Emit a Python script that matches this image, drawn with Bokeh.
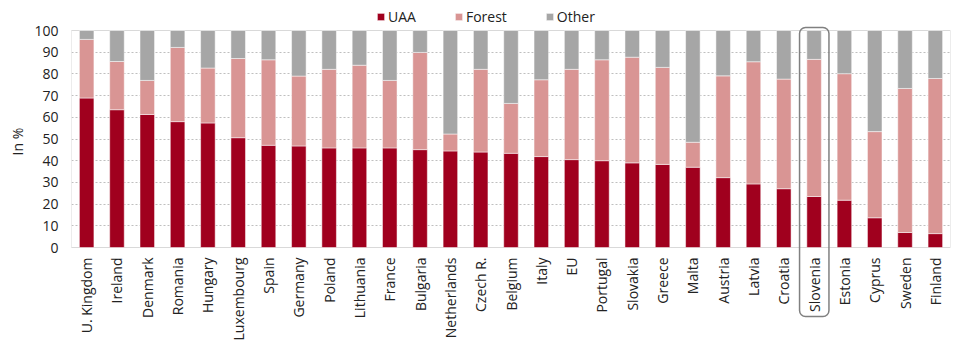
import math
from bokeh.plotting import figure
from bokeh.models import (ColumnDataSource, Legend, LegendItem, BoxAnnotation, FixedTicker,
                          Range1d, Title)
from bokeh.core.properties import value
from bokeh.embed import file_html
from bokeh.resources import INLINE

countries = ["U. Kingdom", "Ireland", "Denmark", "Romania", "Hungary", "Luxembourg", "Spain",
             "Germany", "Poland", "Lithuania", "France", "Bulgaria", "Netherlands", "Czech R.",
             "Belgium", "Italy", "EU", "Portugal", "Slovakia", "Greece", "Malta", "Austria",
             "Latvia", "Croatia", "Slovenia", "Estonia", "Cyprus", "Sweden", "Finland"]
uaa = [68.9, 63.5, 61.3, 58.0, 57.4, 50.6, 47.1, 46.8, 45.9, 45.9, 45.9, 45.1, 44.5, 44.0,
       43.4, 41.9, 40.5, 40.0, 39.0, 38.3, 37.0, 32.2, 29.3, 27.1, 23.5, 21.8, 13.7, 6.9, 6.4]
uaa_forest_top = [95.9, 85.7, 77.0, 92.2, 82.7, 87.1, 86.5, 79.0, 82.1, 84.0, 77.0, 89.9, 52.3, 82.1,
                  66.4, 77.3, 82.1, 86.5, 87.7, 83.0, 48.5, 79.1, 85.6, 77.6, 86.7, 80.1, 53.4, 73.3, 77.9]
forest = [round(t - u, 1) for t, u in zip(uaa_forest_top, uaa)]
other = [round(100 - t, 1) for t in uaa_forest_top]
series = ["UAA", "Forest", "Other"]
colors = ["#A0001E", "#D99594", "#A6A6A6"]
y_ticks = list(range(0, 101, 10))
highlight = "Slovenia"

FONT = "Open Sans"
TEXT_COLOR = "#222222"

# Layout geometry (pixels): plot area spans 30..247 vertically inside a 349 px canvas
H = 349
AREA_TOP, AREA_BOTTOM = 30, 247
px_per_unit = (AREA_BOTTOM - AREA_TOP) / 100.0
y_start = -(H - AREA_BOTTOM) / px_per_unit
y_end = 100 + AREA_TOP / px_per_unit

source = ColumnDataSource(data=dict(country=countries, UAA=uaa, Forest=forest, Other=other))

p = figure(x_range=countries, width=960, height=H, output_backend="svg", toolbar_location=None,
           x_axis_location=None,
           min_border_left=65, min_border_right=10, min_border_top=0, min_border_bottom=0)
p.y_range = Range1d(y_start, y_end)

renderers = p.vbar_stack(series, x="country", width=0.48, source=source, color=colors,
                         line_color="white", line_width=0.5)

# category labels below the plot area
p.text(x="country", y=-10 / px_per_unit, text="country", source=source, angle=math.pi / 2,
       text_align="right", text_baseline="middle", text_font=value(FONT),
       text_font_size="14px", text_color=TEXT_COLOR)

# plot-area frame
p.add_layout(BoxAnnotation(bottom=0, top=100, fill_alpha=0, line_color="#D9D9D9", line_alpha=1,
                           line_width=1, level="underlay"))

legend = Legend(items=[LegendItem(label=s, renderers=[r]) for s, r in zip(series, renderers)],
                orientation="horizontal", location=(305, H - 26), padding=0, margin=0, spacing=38,
                glyph_width=9, glyph_height=9, label_standoff=3,
                border_line_color=None, background_fill_alpha=0,
                label_text_font=FONT, label_text_font_size="14px", label_text_color=TEXT_COLOR)
p.add_layout(legend, "center")

idx = countries.index(highlight)
box = BoxAnnotation(left=idx + 0.02, right=idx + 0.99, top=100 + 3 / px_per_unit,
                    bottom=-(316 - AREA_BOTTOM) / px_per_unit,
                    fill_alpha=0, line_color="#808080", line_alpha=1, line_width=1.5,
                    border_radius=6)
p.add_layout(box)

p.yaxis.ticker = FixedTicker(ticks=y_ticks)
p.yaxis.bounds = (0, 100)
p.yaxis.major_label_text_font = FONT
p.yaxis.major_label_text_font_size = "14px"
p.yaxis.major_label_text_color = TEXT_COLOR
p.yaxis.major_tick_line_color = None
p.yaxis.major_tick_out = 0
p.yaxis.major_tick_in = 0
p.yaxis.minor_tick_line_color = None
p.yaxis.axis_line_color = None
p.yaxis.major_label_standoff = 13

p.add_layout(Title(text="In %", align="left", offset=194, text_font=FONT,
                   text_font_style="normal", text_font_size="14px", text_color=TEXT_COLOR),
             "left")

p.xgrid.grid_line_color = None
p.ygrid.ticker = FixedTicker(ticks=y_ticks)
p.ygrid.grid_line_color = "#BFBFBF"
p.ygrid.grid_line_dash = "2 2"
p.ygrid.grid_line_width = 1
p.outline_line_color = None
p.x_range.range_padding = 0

open("out.html", "w").write(file_html(p, INLINE))
